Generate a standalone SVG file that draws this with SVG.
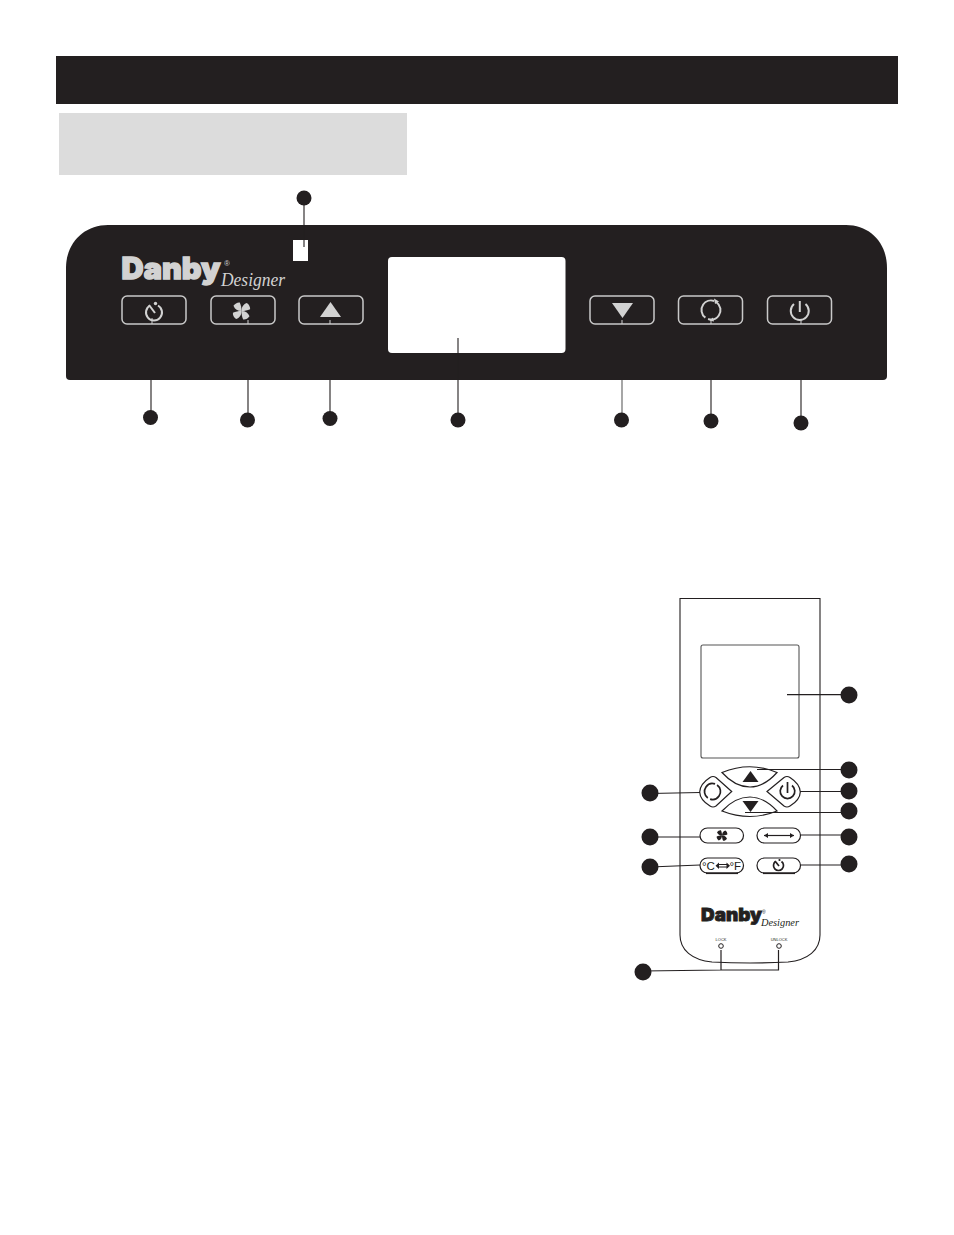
<svg xmlns="http://www.w3.org/2000/svg" width="954" height="1235" viewBox="0 0 954 1235">
<style>
text{opacity:.999}
.pbtn{fill:none;stroke:#c9c9c9;stroke-width:1.5}
.pfill{fill:#d2d2d2}
.pstroke{fill:none;stroke:#d2d2d2;stroke-width:2}
.dot{fill:#231f20}
.conn{fill:none;stroke:#231f20;stroke-width:1.1}
.lg{stroke:#777;stroke-width:1.3}
.tick{stroke:#d2d2d2;stroke-width:1;fill:none}
.rbtn{fill:#fff;stroke:#231f20;stroke-width:1.2}
.rk{fill:#231f20}
.rline{fill:none;stroke:#231f20;stroke-width:1.2}
.ric{fill:none;stroke:#231f20;stroke-width:1.7}
.logo{font-family:Inter,"Liberation Sans",Arial,sans-serif;font-weight:900}
.des{font-family:"Liberation Serif","Times New Roman",serif;font-style:italic}
</style>
<defs>
<path id="petal" d="M0 0C-3-2-4.500-5-3.500-9C-1-10 2-9.500 3.500-8C3-5 1.500-2 0 0Z"/>
<g id="fan"><use href="#petal" transform="rotate(-35)"/><use href="#petal" transform="rotate(55)"/><use href="#petal" transform="rotate(145)"/><use href="#petal" transform="rotate(235)"/></g>
</defs>
<rect id="header-bar" x="56" y="56" width="842" height="48" fill="#231f20"/>
<rect id="title-box" x="59" y="113" width="348" height="62" fill="#dcdcdc"/>
<g id="control-panel">
<path d="M66 376V268C66 243 84 225 108 225H846C870 225 887 243 887 268V376Q887 380 883 380H70Q66 380 66 376Z" fill="#231f20"/>
<rect x="293" y="240" width="15" height="21" fill="#fff"/>
<rect x="388" y="257" width="177.500" height="96" rx="4" fill="#fff"/>
</g>
<g id="panel-logo">
<text class="logo" x="121.500" y="278.500" font-size="29.500" textLength="99" lengthAdjust="spacingAndGlyphs" fill="#d2d2d2" stroke="#d2d2d2" stroke-width="1.400">Danby</text>
<text x="224" y="266" font-family="Liberation Sans,sans-serif" font-size="8" fill="#d2d2d2">®</text>
<text class="des" x="221" y="286" font-size="18.500" textLength="64" lengthAdjust="spacingAndGlyphs" fill="#d2d2d2">Designer</text>
</g>
<g id="btn-timer"><rect class="pbtn" x="122" y="296" width="64" height="28" rx="5"/><path class="pstroke" d="M150 305.500A8 8 0 1 0 158 305.500"/><path class="pstroke" d="M149 305L155 313"/><circle class="pfill" cx="155.500" cy="303.500" r="1.700"/></g>
<g id="btn-fan"><rect class="pbtn" x="211" y="296" width="64" height="28" rx="5"/><use href="#fan" transform="translate(241.500 311)" class="pfill"/></g>
<g id="btn-up"><rect class="pbtn" x="299" y="296" width="64" height="28" rx="5"/><path class="pfill" d="M330.500 302L341 317H320Z"/></g>
<g id="btn-down"><rect class="pbtn" x="590" y="296" width="64" height="28" rx="5"/><path class="pfill" d="M612 303H633L622.500 318Z"/></g>
<g id="btn-cycle"><rect class="pbtn" x="678.500" y="296" width="64" height="28" rx="5"/><circle class="pstroke" cx="711" cy="310" r="9.500" stroke-dasharray="26.800 3.050" transform="rotate(-55 711 310)"/><path class="pfill" d="M714 298.500L719 301.500L715 304ZM709.500 320.500L713 317.500L714 321.500Z"/></g>
<g id="btn-power"><rect class="pbtn" x="767.500" y="296" width="64" height="28" rx="5"/><path class="pstroke" d="M794 304A9 9 0 1 0 805.500 304M799.800 301V312"/></g>
<g id="remote">
<path d="M680 598.500V935C680 950 692 960 712 962Q750 964 788 962C808 960 820 950 820 935V598.500Z" fill="none" stroke="#231f20" stroke-width="1.100"/>
<rect x="701" y="645" width="98" height="113" rx="2" fill="#fff" stroke="#555" stroke-width="1.100"/>
</g>
<g id="r-up"><path class="rbtn" d="M722 772.500Q750 761 777 772.500Q764 787 750 787Q735 787 722 772.500Z"/><path class="rk" d="M750.500 771L758.500 782H742.500Z"/></g>
<g id="r-down"><path class="rbtn" d="M722 811Q750 822 777 811Q764 797 750 797Q735 797 722 811Z"/><path class="rk" d="M742.500 801H758.500L750.500 812Z"/></g>
<g id="r-cycle"><path class="rbtn" d="M731.700 791.500L716 777.500Q713 775.500 710 777.500Q700 784 699.700 792Q700 800 710 806Q713 808 716 806Z"/><circle class="ric" cx="712.500" cy="791.500" r="8" stroke-dasharray="22.500 2.630" transform="rotate(-55 712.500 791.500)"/></g>
<g id="r-power"><path class="rbtn" d="M767 791.500L784 777.500Q787 775.500 790 777.500Q800 784 800.300 792Q800 800 790 806Q787 808 784 806Z"/><path class="ric" d="M783 785.500A7.300 7.300 0 1 0 792 785.500M787.500 782V793"/></g>
<g id="r-fan"><rect class="rbtn" x="700" y="828" width="43.500" height="15" rx="7.500"/><use href="#fan" transform="translate(722 835.500) scale(.62)" class="rk"/></g>
<g id="r-swing"><rect class="rbtn" x="757" y="828" width="43.500" height="15" rx="7.500"/><path class="rline" d="M764 835.500H794"/><path class="rk" d="M764 835.500L768 833V838ZM794 835.500L790 833V838Z"/></g>
<g id="r-unit"><rect class="rbtn" x="700" y="858" width="43.500" height="15" rx="7.500"/><text x="702" y="870" font-family="Liberation Sans,sans-serif" font-size="11.500" fill="#231f20">°C</text><text x="729.500" y="870" font-family="Liberation Sans,sans-serif" font-size="11.500" fill="#231f20">°F</text><path class="rline" d="M718 864.500H728M718 867H728"/><path class="rk" d="M715.500 865.700L719 862.500V869ZM730 865.700L726.500 862.500V869Z"/><path d="M706 873.300H738" stroke="#231f20" stroke-width="1.600"/></g>
<g id="r-timer"><rect class="rbtn" x="757" y="858" width="43.500" height="15" rx="7.500"/><path class="ric" d="M775.500 861.500A5 5 0 1 0 781.500 861.500" stroke-width="1.400"/><path class="ric" d="M775 861L779 866" stroke-width="1.400"/><circle class="rk" cx="779.500" cy="860" r="1.100"/><path d="M763 873.300H795" stroke="#231f20" stroke-width="1.600"/></g>
<g id="remote-logo">
<text class="logo" x="701" y="921" font-size="18" textLength="61" lengthAdjust="spacingAndGlyphs" fill="#231f20" stroke="#231f20" stroke-width=".8">Danby</text>
<text x="762" y="914" font-family="Liberation Sans,sans-serif" font-size="5" fill="#231f20">®</text>
<text class="des" x="761" y="926" font-size="11" textLength="38" lengthAdjust="spacingAndGlyphs" fill="#231f20">Designer</text>
</g>
<g id="lock">
<text x="721" y="941" text-anchor="middle" font-family="Liberation Sans,sans-serif" font-size="4" fill="#231f20">LOCK</text>
<circle cx="721" cy="946" r="2.300" fill="#fff" stroke="#231f20"/>
</g>
<g id="unlock">
<text x="779" y="941" text-anchor="middle" font-family="Liberation Sans,sans-serif" font-size="4" fill="#231f20">UNLOCK</text>
<circle cx="779" cy="946" r="2.300" fill="#fff" stroke="#231f20"/>
</g>
<g id="connectors">
<path class="conn" d="M304 198V247"/>
<path class="conn" d="M151 380V417M248 380V420M330 380V418M711 380V421M801 380V423"/>
<path class="lg" d="M622 380V420"/>
<path class="conn" d="M458 338V420"/>
<path class="tick" d="M152 318V324M248 320V324"/>
<path class="tick" d="M711 320V324M801 320V324M330 320V324M622 320V324"/>
<path class="rline" d="M787 694.700H849"/>
<path class="rline" d="M757 769.500H849M800 791.500H849M745 812.500H849M800.500 835H849M800.500 865H849"/>
<path class="rline" d="M650 793.500L700 792.500M650 837H700M650 867L700 865"/>
<path class="rline" d="M643 971L721 970H778.500V950M721 970V950"/>
</g>
<g id="markers">
<circle class="dot" cx="304" cy="198" r="7.500"/>
<circle class="dot" cx="150.500" cy="417.500" r="7.500"/>
<circle class="dot" cx="247.500" cy="420" r="7.500"/>
<circle class="dot" cx="330" cy="418.500" r="7.500"/>
<circle class="dot" cx="458" cy="420" r="7.500"/>
<circle class="dot" cx="621.500" cy="420" r="7.500"/>
<circle class="dot" cx="711" cy="421" r="7.500"/>
<circle class="dot" cx="801" cy="423" r="7.500"/>
<circle class="dot" cx="849" cy="695" r="8.500"/>
<circle class="dot" cx="849" cy="770" r="8.500"/>
<circle class="dot" cx="849" cy="791" r="8.500"/>
<circle class="dot" cx="849" cy="811" r="8.500"/>
<circle class="dot" cx="849" cy="837" r="8.500"/>
<circle class="dot" cx="849" cy="864" r="8.500"/>
<circle class="dot" cx="650" cy="793" r="8.500"/>
<circle class="dot" cx="650" cy="837" r="8.500"/>
<circle class="dot" cx="650" cy="867" r="8.500"/>
<circle class="dot" cx="643" cy="972" r="8.500"/>
</g>
</svg>
